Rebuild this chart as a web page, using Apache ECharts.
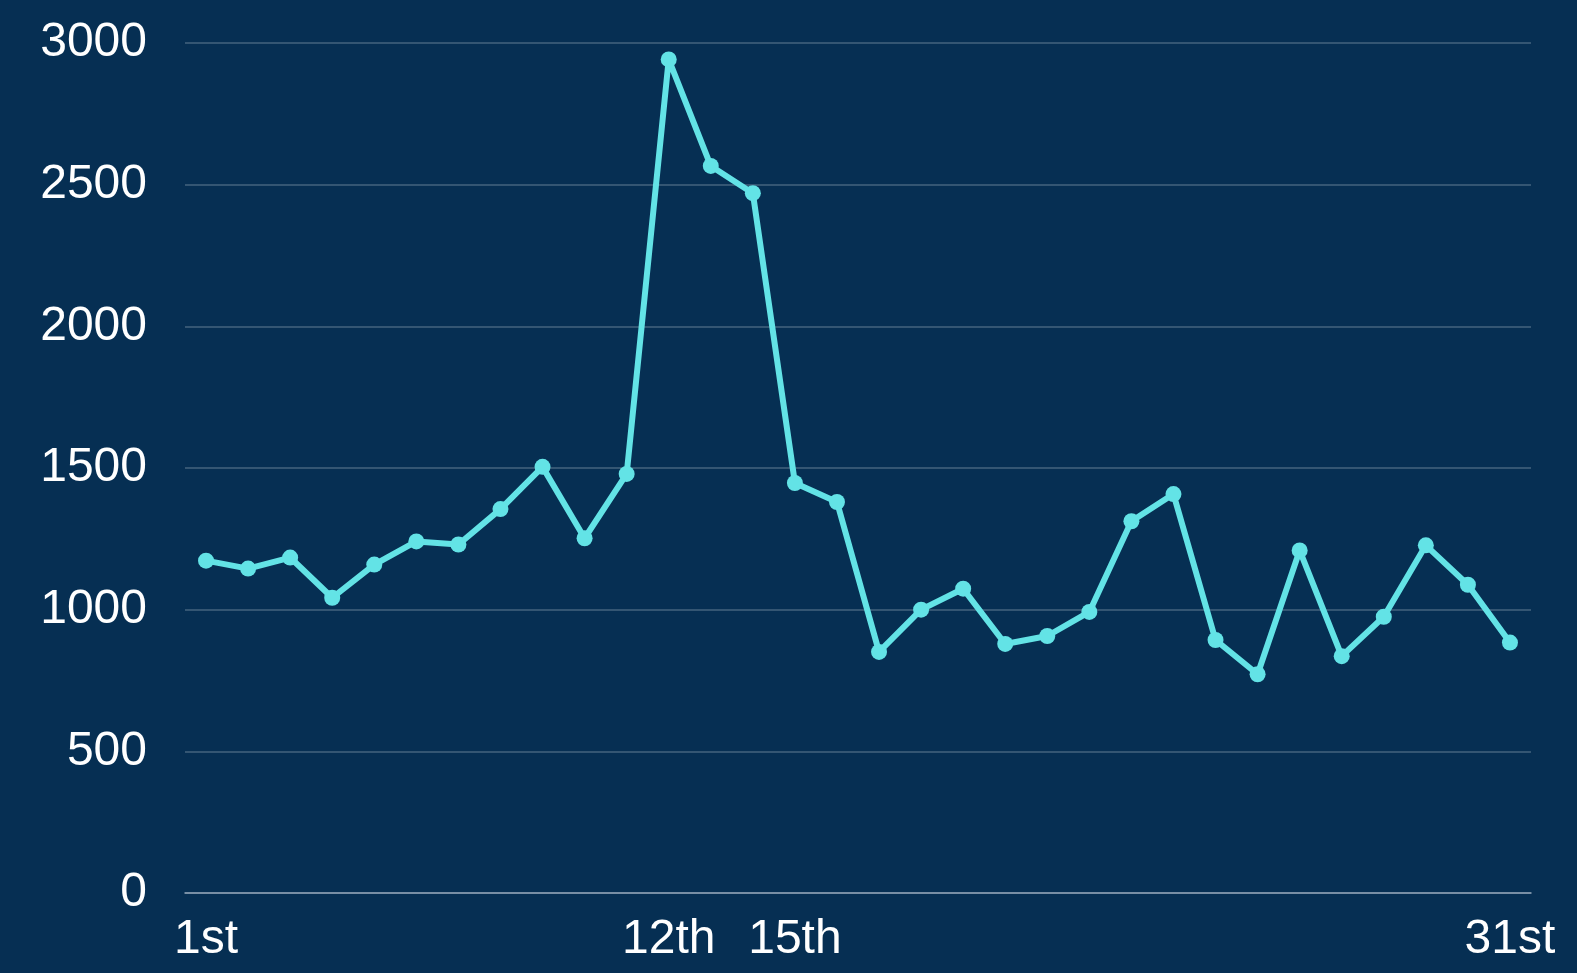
<!DOCTYPE html>
<html>
    <head>
        <meta charset="utf-8">
        <title>Daily count</title>
        <script src="https://cdn.jsdelivr.net/npm/echarts@6/dist/echarts.min.js"></script>
        <style>
            html, body { margin: 0; padding: 0; background: #062f53; }
            #chart1 { width: 1577px; height: 973px; }
        </style>
    </head>
    <body>
        <div id="chart1"></div>
        <script type="text/javascript">
            // categories (one per point) and the few tick labels that are shown
            var days = ['d1', 'd2', 'd3', 'd4', 'd5', 'd6', 'd7', 'd8', 'd9', 'd10',
                        'd11', 'd12', 'd13', 'd14', 'd15', 'd16', 'd17', 'd18', 'd19', 'd20',
                        'd21', 'd22', 'd23', 'd24', 'd25', 'd26', 'd27', 'd28', 'd29', 'd30',
                        'd31', 'd32'];
            var tickIndex = [0, 11, 14, 31];
            var tickText = ['1st', '12th', '15th', '31st'];

            var values = [1173, 1145, 1184, 1042, 1159, 1241, 1230, 1355, 1504, 1252,
                          1479, 2942, 2566, 2470, 1447, 1380, 851, 1000, 1074, 879,
                          907, 992, 1312, 1408, 893, 772, 1209, 836, 975, 1227,
                          1088, 884];

            var yTicks = [0, 500, 1000, 1500, 2000, 2500, 3000];

            var myChart1 = echarts.init(document.getElementById('chart1'));
            myChart1.setOption({
                backgroundColor: '#062f53',
                animation: false,
                grid: {
                    left: 185,
                    right: 46,
                    top: 43,
                    bottom: 80
                },
                xAxis: {
                    type: 'category',
                    data: days,
                    boundaryGap: true,
                    axisLine: { show: true, lineStyle: { color: '#8fa3b6', width: 1.5 } },
                    axisTick: { show: false },
                    axisLabel: {
                        interval: function (i) { return tickIndex.indexOf(i) >= 0; },
                        formatter: function (v, i) { return tickText[tickIndex.indexOf(i)]; },
                        color: '#ffffff',
                        fontFamily: 'Liberation Sans',
                        fontSize: 48,
                        margin: 23
                    }
                },
                yAxis: {
                    type: 'value',
                    min: yTicks[0],
                    max: yTicks[yTicks.length - 1],
                    interval: 500,
                    axisLine: { show: false },
                    axisTick: { show: false },
                    axisLabel: {
                        formatter: function (v) { return String(v); },
                        color: '#ffffff',
                        fontFamily: 'Liberation Sans',
                        fontSize: 48,
                        margin: 38,
                        padding: [5, 0, 0, 0]
                    },
                    splitLine: {
                        lineStyle: { color: 'rgba(255,255,255,0.25)', width: 1.5 }
                    }
                },
                series: [
                    {
                        type: 'line',
                        data: values,
                        symbol: 'circle',
                        symbolSize: 16,
                        lineStyle: { color: '#63e3e6', width: 6 },
                        itemStyle: { color: '#63e3e6' }
                    }
                ]
            });
        </script>
    </body>
</html>
